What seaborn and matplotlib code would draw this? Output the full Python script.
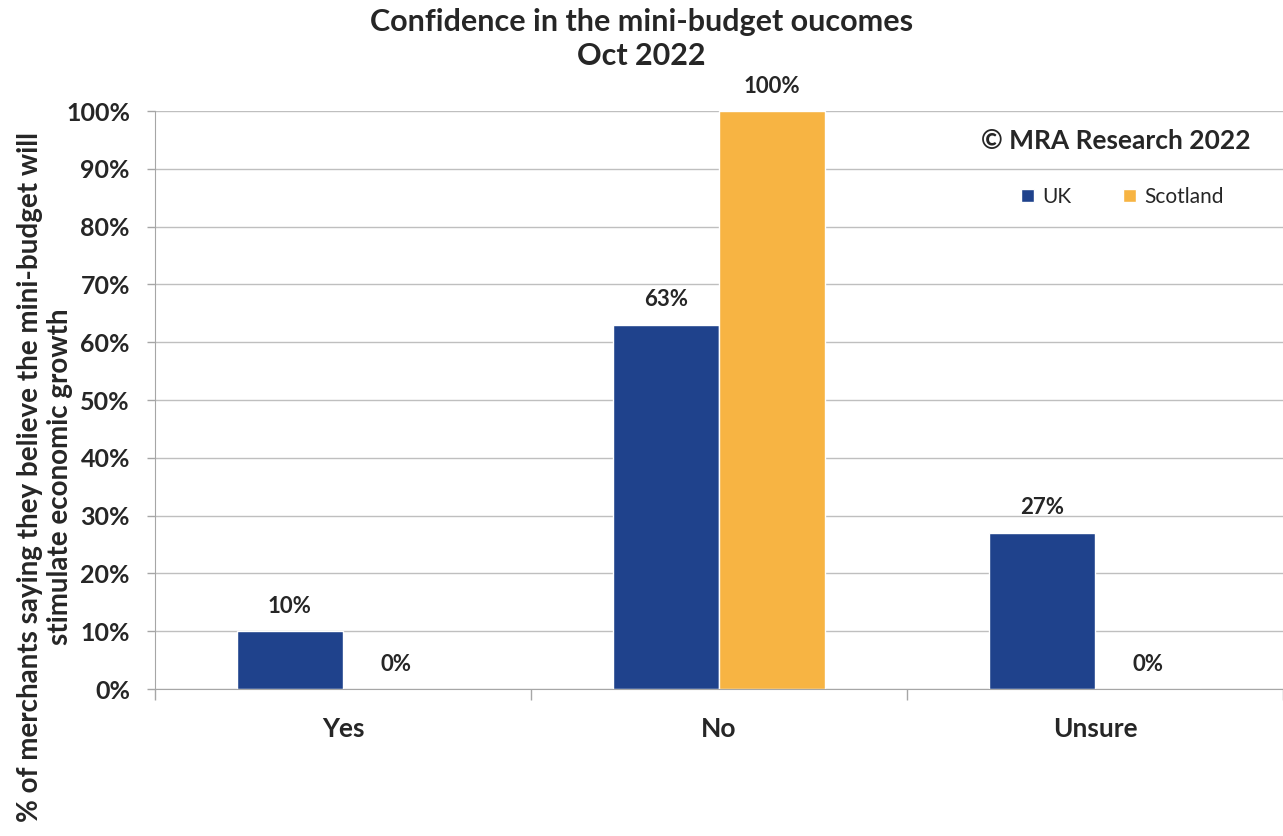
import pandas as pd
import numpy as np
import matplotlib
matplotlib.use("Agg")
import matplotlib.pyplot as plt
import seaborn as sns

# Data
categories = ["Yes", "No", "Unsure"]
uk_values = [10, 63, 27]
scotland_values = [0, 100, 0]
series_names = ["UK", "Scotland"]
colors = ["#1F428C", "#F7B443"]

df = pd.DataFrame({
    "Answer": categories * 2,
    "Region": [series_names[0]] * 3 + [series_names[1]] * 3,
    "Value": uk_values + scotland_values,
})

sns.set_style("white")
plt.rcParams["font.family"] = ["Lato", "DejaVu Sans"]
plt.rcParams["font.weight"] = "bold"

fig = plt.figure(figsize=(12.83, 8.36), dpi=100)
ax = fig.add_axes([0.1208, 0.1758, 0.8792, 0.6914])

sns.barplot(data=df, x="Answer", y="Value", hue="Region", order=categories,
            hue_order=series_names, palette=colors, width=0.565,
            saturation=1, ax=ax)

# value labels
for cont in ax.containers:
    for bar in cont:
        h = bar.get_height()
        ax.annotate(f"{h:.0f}%", (bar.get_x() + bar.get_width() / 2, h),
                    xytext=(0, 18), textcoords="offset points",
                    ha="center", va="center", fontsize=16, fontweight="bold")

ax.set_ylim(0, 100)
ax.set_xlim(-0.5, 2.5)
ax.set_yticks(np.arange(0, 101, 10))
ax.set_yticklabels([f"{v}%" for v in range(0, 101, 10)], fontsize=18, fontweight="bold")
ax.tick_params(axis="y", direction="out", length=6, color="#A6A6A6", width=1, pad=12, left=True)
ax.set_xticks([0, 1, 2])
ax.set_xticklabels(categories, fontsize=19, fontweight="bold")
ax.set_xticks([-0.5, 0.5, 1.5, 2.5], minor=True)
ax.tick_params(axis="x", which="major", length=0, pad=20)
ax.tick_params(axis="x", which="minor", length=8, color="#A6A6A6", width=1, bottom=True)
ax.yaxis.grid(True, color="#BFBFBF", linewidth=1)
ax.set_axisbelow(True)
for side in ["top", "right"]:
    ax.spines[side].set_visible(False)
for side in ["left", "bottom"]:
    ax.spines[side].set_color("#A6A6A6")
ax.set_xlabel("")
ax.set_ylabel("")

leg = ax.legend(loc="center left", bbox_to_anchor=(0.768, 0.851), ncol=2, frameon=False,
                fontsize=15, handlelength=0.6, handleheight=0.6, columnspacing=2.5,
                handletextpad=0.4, borderpad=0, borderaxespad=0)
for t in leg.get_texts():
    t.set_fontweight("normal")

ax.text(0.852, 0.948, "© MRA Research 2022", transform=ax.transAxes,
        ha="center", va="center", fontsize=19, fontweight="bold")

fig.text(0.5, 0.99, "Confidence in the mini-budget oucomes\nOct 2022", ha="center",
         va="top", fontsize=22, fontweight="bold", linespacing=1.25)

fig.text(0.035, 0.43, "% of merchants saying they believe the mini-budget will\nstimulate economic growth",
         rotation=90, ha="center", va="center", multialignment="center",
         fontsize=20, fontweight="bold", linespacing=1.2)

fig.savefig("out.png", dpi=100)
